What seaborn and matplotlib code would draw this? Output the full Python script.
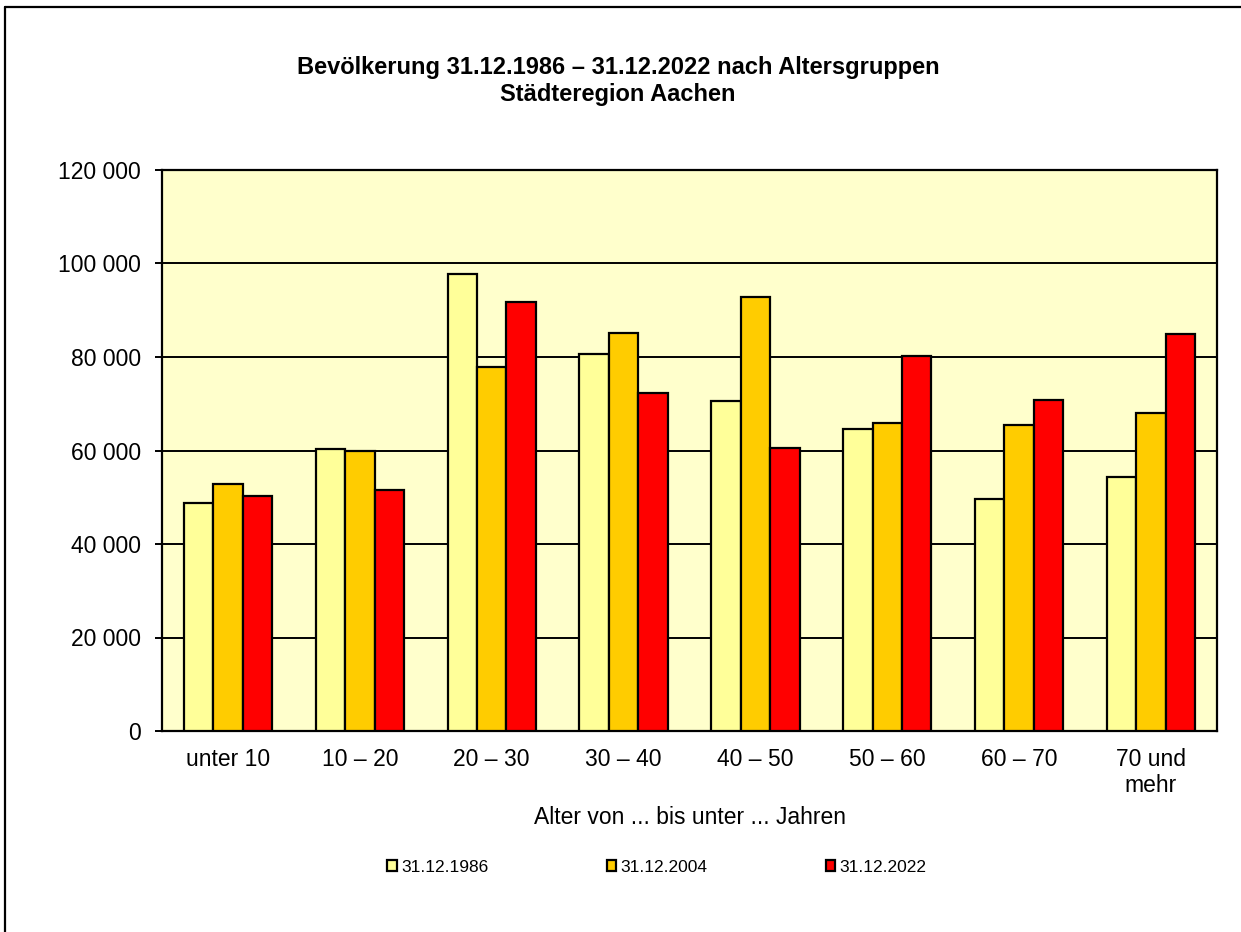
import matplotlib
matplotlib.use("Agg")
import matplotlib.pyplot as plt
import matplotlib.ticker as mticker
from matplotlib.lines import Line2D
from matplotlib.patches import Patch
import pandas as pd
import seaborn as sns

# Age groups and population counts per reference date
categories = ["unter 10", "10 – 20", "20 – 30", "30 – 40", "40 – 50",
              "50 – 60", "60 – 70", "70 und\nmehr"]
series_names = ["31.12.1986", "31.12.2004", "31.12.2022"]
pop_1986 = [48700, 60300, 97700, 80600, 70600, 64700, 49700, 54400]
pop_2004 = [52900, 59800, 77800, 85100, 92900, 65900, 65400, 68100]
pop_2022 = [50200, 51600, 91700, 72300, 60600, 80300, 70900, 84900]
colors = ["#FFFF99", "#FFCC00", "#FF0000"]
y_ticks = [0, 20000, 40000, 60000, 80000, 100000, 120000]

title = "Bevölkerung 31.12.1986 – 31.12.2022 nach Altersgruppen\nStädteregion Aachen"
x_label = "Alter von ... bis unter ... Jahren"

rows = []
for name, values in zip(series_names, [pop_1986, pop_2004, pop_2022]):
    for cat, v in zip(categories, values):
        rows.append({"Altersgruppe": cat, "Stichtag": name, "Einwohner": v})
df = pd.DataFrame(rows)

sns.set_theme(style="white")
plt.rcParams["font.family"] = ["Liberation Sans", "DejaVu Sans"]
plt.rcParams["text.color"] = "black"

fig = plt.figure(figsize=(12.41, 9.32), dpi=100)
ax = fig.add_axes([162 / 1241, 1 - 731 / 932, (1217 - 162) / 1241, (731 - 170) / 932])
ax.set_facecolor("#FFFFCC")

sns.barplot(data=df, x="Altersgruppe", y="Einwohner", hue="Stichtag",
            order=categories, hue_order=series_names, palette=colors,
            width=0.67, gap=0, edgecolor="black", linewidth=1.6,
            saturation=1, legend=False, ax=ax, zorder=3)

ax.set_xlim(-0.5, len(categories) - 0.5)
ax.set_ylim(0, 120000)
ax.set_yticks(y_ticks)
ax.yaxis.set_major_formatter(mticker.FuncFormatter(
    lambda v, p: f"{int(v):,}".replace(",", " ")))
ax.grid(axis="y", color="black", linewidth=1.4, zorder=0)
ax.set_axisbelow(True)
for s in ax.spines.values():
    s.set_color("black")
    s.set_linewidth(1.6)

ax.tick_params(axis="y", which="major", left=True, length=5, width=1.4,
               color="black", pad=10, labelsize=16.5, labelcolor="black")
ax.tick_params(axis="x", length=0, pad=12, labelsize=16.5, labelcolor="black")
for lbl in ax.get_xticklabels():
    lbl.set_linespacing(1.2)
ax.set_ylabel("")
ax.set_xlabel(x_label, fontsize=16.5, color="black", labelpad=6)

fig.text(618 / 1241, 1 - 81 / 932, title, ha="center", va="center",
         fontsize=17, fontweight="bold", linespacing=1.2, color="black")

handles = [Patch(facecolor=c, edgecolor="black", linewidth=1.6) for c in colors]
leg = fig.legend(handles, series_names, loc="center", ncol=3,
                 bbox_to_anchor=(657 / 1241, 1 - 867 / 932), frameon=False,
                 fontsize=12.5, handlelength=0.55, handleheight=0.55,
                 handletextpad=0.25, columnspacing=6.8, borderaxespad=0)
for t in leg.get_texts():
    t.set_color("black")

# Outer chart frame
fig.add_artist(Line2D([5 / 1241, 5 / 1241], [0, 1 - 7 / 932],
                      transform=fig.transFigure, color="black", linewidth=1.6))
fig.add_artist(Line2D([5 / 1241, 1], [1 - 7 / 932, 1 - 7 / 932],
                      transform=fig.transFigure, color="black", linewidth=1.6))

fig.savefig("out.png", dpi=100, facecolor="white")
